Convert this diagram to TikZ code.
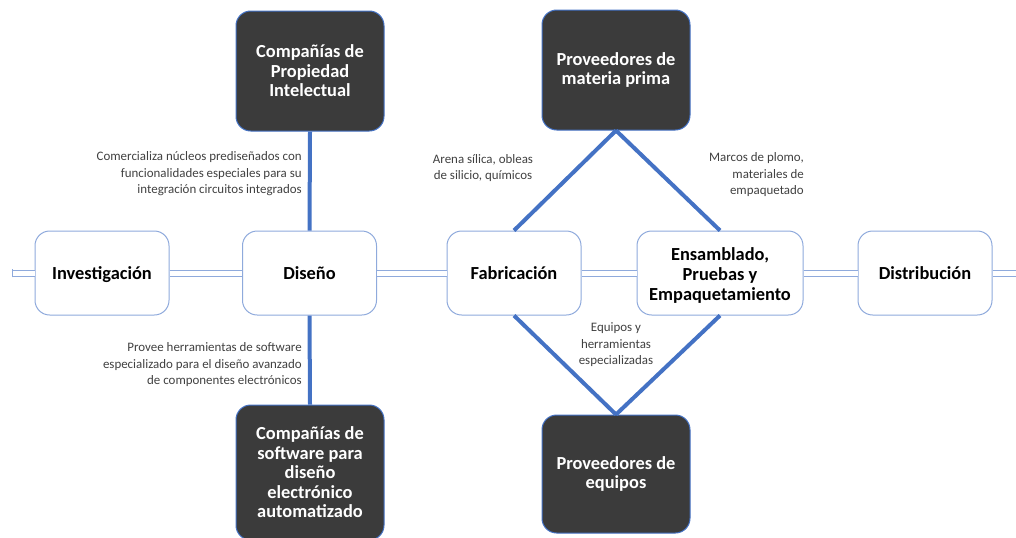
\documentclass[tikz,border=0pt]{standalone}
\usepackage{fontspec}
\setmainfont{Carlito}
\definecolor{linkblue}{HTML}{4472C4}
\definecolor{edgeblue}{HTML}{8FAADC}
\definecolor{darkfill}{HTML}{3B3B3B}
\definecolor{labelgray}{HTML}{404040}
\newcommand\boxstrut{\rule[-6pt]{0pt}{21pt}}
\tikzset{
  stage/.style={draw=edgeblue, line width=0.75pt, fill=white, rounded corners=11pt,
    minimum width=100.5pt, minimum height=63pt, align=center, inner sep=2pt,
    font=\fontsize{13.8}{15}\selectfont\bfseries, text=black},
  actor/.style={draw=linkblue, line width=0.75pt, fill=darkfill, rounded corners=11pt,
    minimum width=111pt, minimum height=90pt, align=center, inner sep=2pt,
    font=\fontsize{13.8}{14.6}\selectfont\bfseries, text=white},
  link/.style={draw=linkblue, line width=3pt},
  flow/.style={draw=edgeblue, line width=0.75pt, double=white, double distance=3.75pt},
  lbl/.style={font=\fontsize{9.7}{12.4}\selectfont, text=labelgray, inner sep=0pt}
}
\begin{document}
\begin{tikzpicture}[x=0.75pt, y=-0.75pt]
\useasboundingbox (0,0) rectangle (1016,537);
% stage boxes
\node[stage] (inv) at (102,273) {\boxstrut Investigación};
\node[stage] (dis) at (309.5,273) {\boxstrut Diseño};
\node[stage] (fab) at (514,273) {\boxstrut Fabricación};
\node[stage, minimum width=124.5pt] (ens) at (720,273) {\rule{0pt}{14pt}Ensamblado,\\Pruebas y\\Empaquetamiento};
\node[stage] (dist) at (925,273) {\boxstrut Distribución};
% actors
\node[actor] (pi) at (310,71) {Compañías de\\Propiedad\\Intelectual};
\node[actor] (mp) at (616,70) {Proveedores de\\materia prima};
\node[actor, minimum height=101.25pt] (sw) at (310,472.5) {Compañías de\\software para\\diseño\\electrónico\\automatizado};
\node[actor, minimum height=88.5pt] (eq) at (616,474) {Proveedores de\\equipos};
% free ends of the flow
\coordinate (lend) at (12,273);
\coordinate (rend) at (1020,273);
% flow (double lines)
\draw[flow] (lend) -- (inv.west);
\draw[draw=edgeblue, line width=0.75pt] ([yshift=-3.3pt]lend) -- ([yshift=3.3pt]lend);
\draw[flow] (inv.east) -- (dis.west);
\draw[flow] (dis.east) -- (fab.west);
\draw[flow] (fab.east) -- (ens.west);
\draw[flow] (ens.east) -- (dist.west);
\draw[flow] (dist.east) -- (rend);
% links
\draw[link] (pi.south) -- (dis.north);
\draw[link] (dis.south) -- (sw.north);
\draw[link] (mp.south) -- (fab.north);
\draw[link] (mp.south) -- (ens.north);
\draw[link] (fab.south) -- (eq.north);
\draw[link] (ens.south) -- (eq.north);
% labels
\node[lbl, align=right, anchor=east] (l1) at (302,174) {Comercializa núcleos prediseñados con\\funcionalidades especiales para su\\integración circuitos integrados};
\node[lbl, align=right, anchor=east] (l2) at (302,365) {Provee herramientas de software\\especializado para el diseño avanzado\\de componentes electrónicos};
\node[lbl, align=center] (l3) at (483,168) {Arena sílica, obleas\\de silicio, químicos};
\node[lbl, align=right, anchor=east] (l4) at (804,175) {Marcos de plomo,\\materiales de\\empaquetado};
\node[lbl, align=center] (l5) at (616,345) {Equipos y\\herramientas\\especializadas};
\end{tikzpicture}
\end{document}
